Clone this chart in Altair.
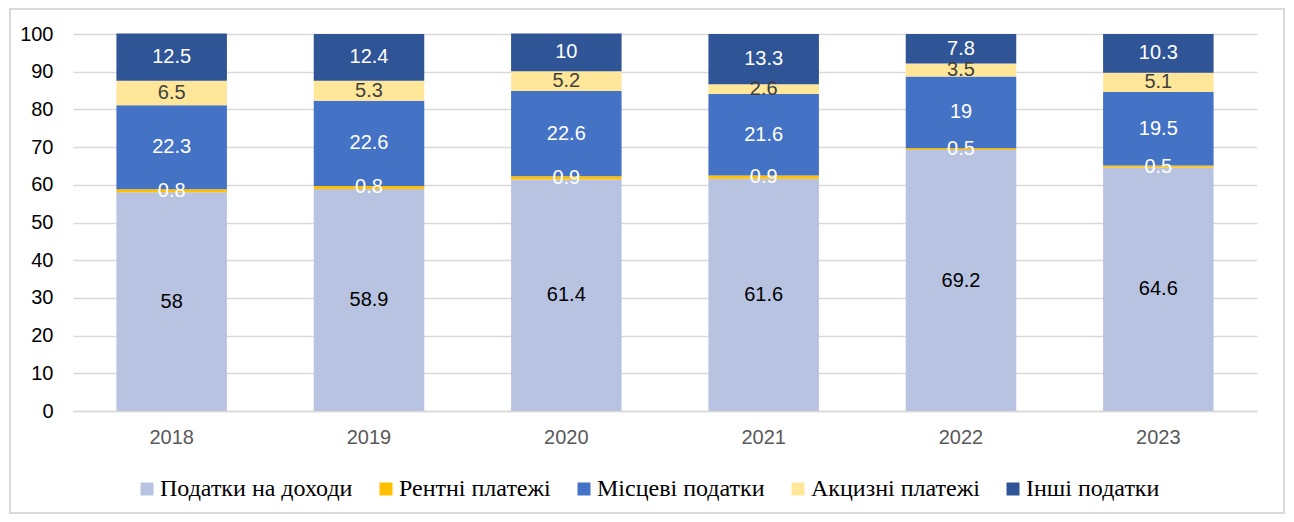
import altair as alt
import pandas as pd

years = ["2018", "2019", "2020", "2021", "2022", "2023"]
series = ["Податки на доходи", "Рентні платежі", "Місцеві податки", "Акцизні платежі", "Інші податки"]
income = [58, 58.9, 61.4, 61.6, 69.2, 64.6]
rent = [0.8, 0.8, 0.9, 0.9, 0.5, 0.5]
local = [22.3, 22.6, 22.6, 21.6, 19, 19.5]
excise = [6.5, 5.3, 5.2, 2.6, 3.5, 5.1]
other = [12.5, 12.4, 10, 13.3, 7.8, 10.3]

colors = ["#B8C3E2", "#FFC000", "#4472C4", "#FFE699", "#2F5597"]
text_colors = ["#000000", "#FFFFFF", "#FFFFFF", "#404040", "#FFFFFF"]

rows = []
for i, y in enumerate(years):
    for k, (name, vals) in enumerate(zip(series, [income, rent, local, excise, other])):
        rows.append({"year": y, "series": name, "value": vals[i], "ord": k})
df = pd.DataFrame(rows)

base = alt.Chart(df).transform_stack(
    stack="value", as_=["y0", "y1"], groupby=["year"], sort=[alt.SortField("ord")]
).transform_calculate(mid="(datum.y0 + datum.y1) / 2")

x_enc = alt.X(
    "year:N",
    title=None,
    scale=alt.Scale(paddingInner=0.44, paddingOuter=0.22),
    axis=alt.Axis(
        labelAngle=0, labelFont="Liberation Sans", labelFontSize=20, labelColor="#595959",
        ticks=False, domainColor="#D9D9D9", domainWidth=1.5, labelPadding=16, grid=False,
    ),
)

y_axis = alt.Axis(
    values=list(range(0, 101, 10)), labelFont="Liberation Sans", labelFontSize=20,
    labelColor="#000000", ticks=False, domain=False, gridColor="#D9D9D9",
    gridWidth=1.5, labelPadding=20, labelOverlap=False,
)

legend = alt.Legend(
    title=None, orient="none", direction="horizontal", legendX=62, legendY=443,
    symbolType="square", symbolSize=169, symbolStrokeWidth=0, symbolOpacity=1,
    labelOffset=1, columnPadding=21, labelLimit=400,
    labelFont="Liberation Serif", labelFontSize=24, labelColor="#000000",
)

bars = base.mark_bar().encode(
    x=x_enc,
    y=alt.Y("y0:Q", title=None, scale=alt.Scale(domain=[0, 100], nice=False), axis=y_axis),
    y2="y1:Q",
    color=alt.Color("series:N", scale=alt.Scale(domain=series, range=colors), legend=legend),
    order=alt.Order("ord:Q"),
)

labels = base.mark_text(font="Liberation Sans", fontSize=20, baseline="middle").encode(
    x=alt.X("year:N"),
    y=alt.Y("mid:Q", axis=y_axis),
    text=alt.Text("value:Q"),
    fill=alt.Fill("series:N", scale=alt.Scale(domain=series, range=text_colors), legend=None),
)

frame = alt.Chart(pd.DataFrame({"a": [0]})).mark_rect(
    fill=None, stroke="#D9D9D9", strokeWidth=2
).encode(
    x=alt.value(-63), x2=alt.value(1184 + 27), y=alt.value(-25), y2=alt.value(377 + 102)
)

chart = alt.layer(frame, bars, labels).properties(
    width=1184, height=377,
    autosize=alt.AutoSizeParams(type="none"),
    padding={"left": 65, "top": 26, "right": 29, "bottom": 103},
).configure_view(stroke=None)

chart.save("out.html", embed_options={"renderer": "svg", "actions": False})
